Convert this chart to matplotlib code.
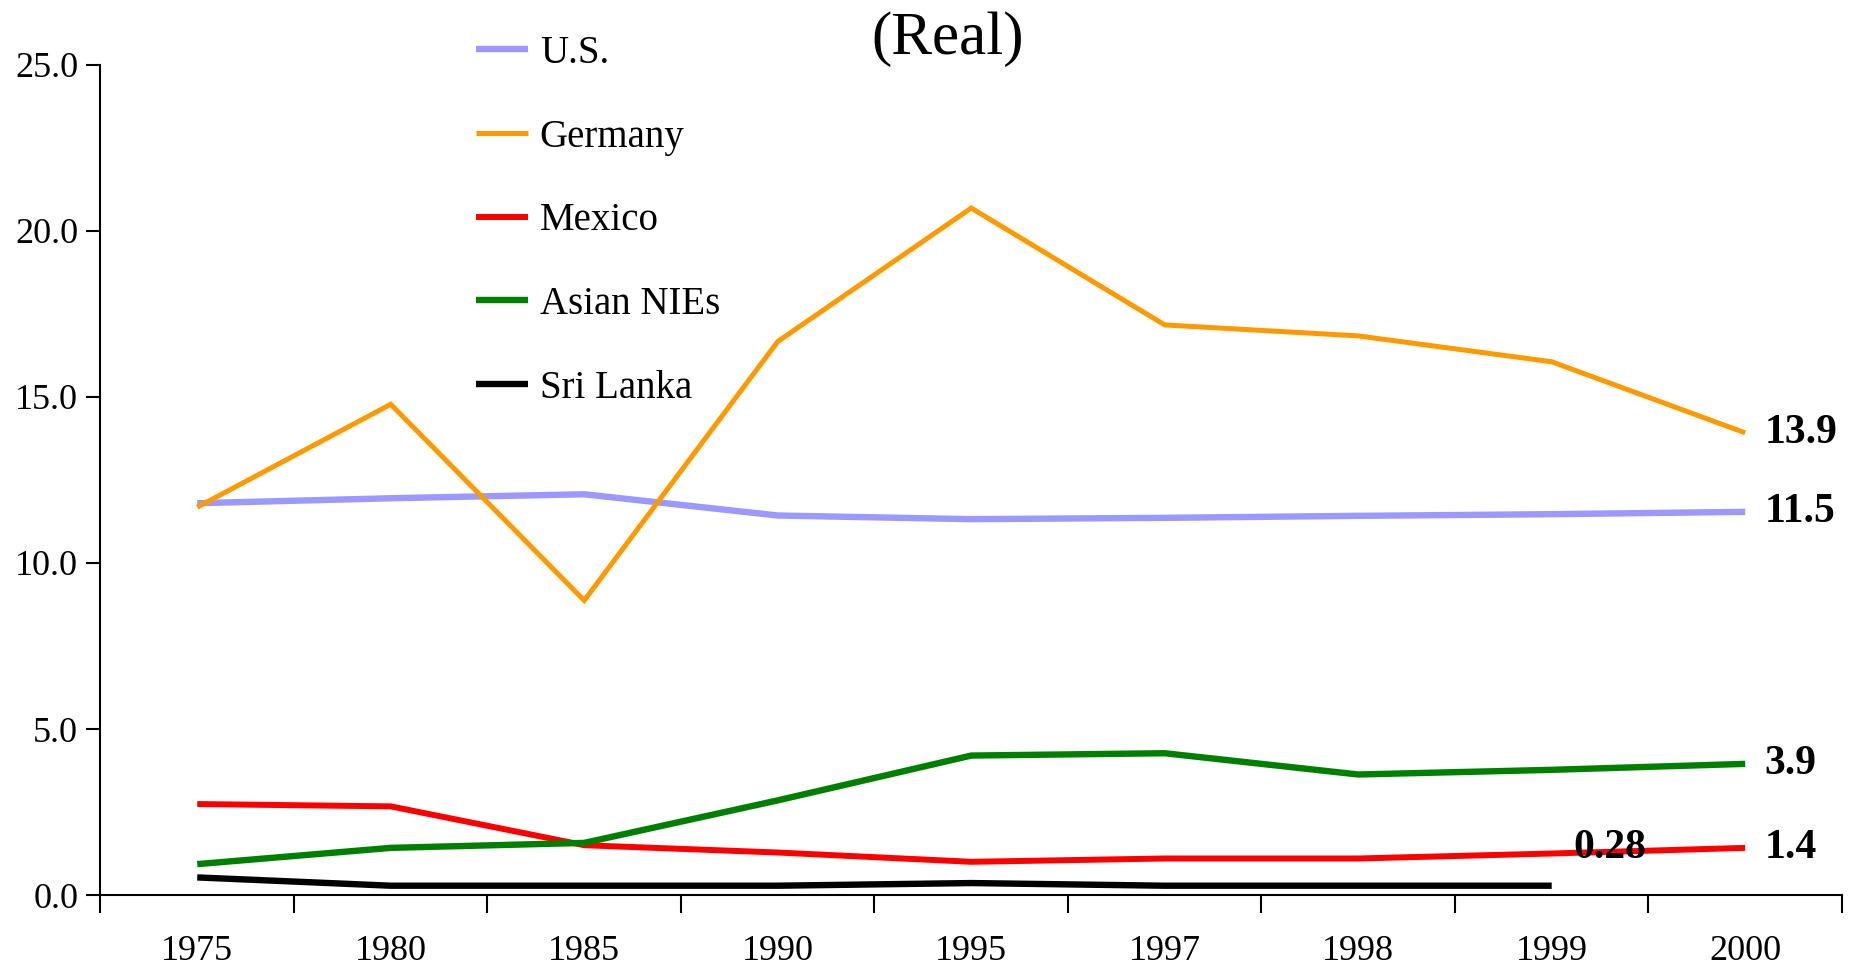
import numpy as np
import matplotlib.pyplot as plt

years = ['1975', '1980', '1985', '1990', '1995', '1997', '1998', '1999', '2000']
us = [11.8, 11.95, 12.07, 11.43, 11.32, 11.36, 11.42, 11.47, 11.54]
germany = [11.68, 14.78, 8.87, 16.67, 20.69, 17.17, 16.84, 16.06, 13.92]
mexico = [2.74, 2.67, 1.50, 1.28, 1.0, 1.1, 1.1, 1.25, 1.42]
asian_nies = [0.93, 1.42, 1.57, 2.85, 4.2, 4.27, 3.63, 3.77, 3.95]
sri_lanka = [0.53, 0.28, 0.28, 0.28, 0.36, 0.28, 0.28, 0.28]

end_labels = ['11.5', '13.9', '1.4', '3.9']
sri_label = '0.28'

plt.rcParams['font.family'] = ['Liberation Serif', 'DejaVu Serif']

fig = plt.figure(figsize=(18.54, 9.68), dpi=100)
ax = fig.add_axes([0.0542, 0.0754, 0.9393, 0.8575])

x = np.arange(len(years))
series = [
    ('U.S.', us, '#9999FF', 4.6),
    ('Germany', germany, '#FF9900', 3.6),
    ('Mexico', mexico, '#FF0000', 4.3),
    ('Asian NIEs', asian_nies, '#008000', 4.6),
    ('Sri Lanka', sri_lanka, '#000000', 4.6),
]
for name, vals, col, lw in series:
    ax.plot(x[:len(vals)], vals, color=col, lw=lw, label=name,
            solid_joinstyle='miter', solid_capstyle='butt')

# bold value labels at the right end
for (name, vals, col, lw), lab in zip(series[:4], end_labels):
    ax.annotate(lab, (x[-1], vals[-1]), xytext=(14, 0), textcoords='offset points',
                ha='left', va='center', fontsize=30, fontweight='bold')
ax.annotate(sri_label, (x[len(sri_lanka) - 1], sri_lanka[-1]), xytext=(42, 27),
            textcoords='offset points', ha='center', va='center',
            fontsize=30, fontweight='bold')

ax.set_xlim(-0.5, len(years) - 0.5)
ax.set_ylim(0, 25)
ax.set_yticks(np.arange(0, 26, 5))
ax.set_yticklabels(['%.1f' % v for v in np.arange(0, 26, 5)])
ax.set_xticks(x)
ax.set_xticklabels(years)
ax.set_xticks(np.arange(-0.5, len(years)), minor=True)
ax.tick_params(axis='x', which='major', length=0, pad=29, labelsize=26)
ax.tick_params(axis='x', which='minor', length=13, width=1.5, direction='out')
ax.tick_params(axis='y', length=10, width=1.5, direction='out', pad=6, labelsize=26)

for s in ['top', 'right']:
    ax.spines[s].set_visible(False)
for s in ['left', 'bottom']:
    ax.spines[s].set_linewidth(1.5)

fig.text(0.511, 0.96, '(Real)', ha='center', va='center', fontsize=44)

ax.legend(loc='upper left', bbox_to_anchor=(0.2156, 1.036), frameon=False,
          fontsize=28, handlelength=1.34, handletextpad=0.3, labelspacing=1.2,
          borderpad=0, borderaxespad=0)

fig.savefig('out.png', dpi=100)
